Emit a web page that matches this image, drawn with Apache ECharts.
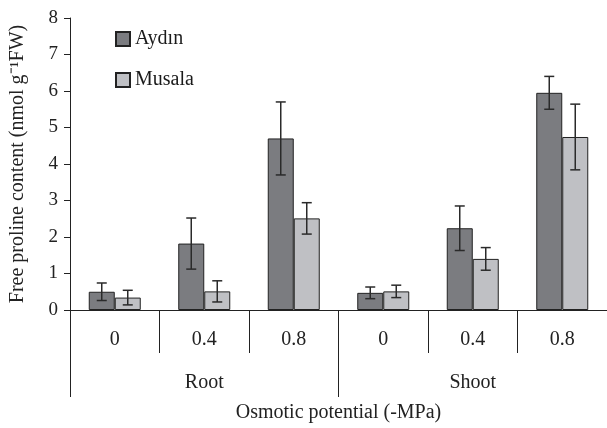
<!DOCTYPE html>
<html lang="en">
<head>
  <meta charset="UTF-8" />
  <title>Free proline content</title>
  <script src="https://cdn.jsdelivr.net/npm/echarts@6.0.0/dist/echarts.min.js"></script>
</head>
<body style="margin:0; background:#fff;">
  <div id="main" style="width: 607px; height: 428px;"></div>
  <script type="text/javascript">
    // categories
    let levels = ['0', '0.4', '0.8', '0', '0.4', '0.8'];
    let organs = ['Root', 'Shoot'];
    // means
    let aydin = [0.50, 1.82, 4.70, 0.47, 2.24, 5.95];
    let musala = [0.34, 0.51, 2.51, 0.51, 1.40, 4.74];
    // standard errors
    let aydinErr = [0.24, 0.70, 1.00, 0.16, 0.61, 0.45];
    let musalaErr = [0.20, 0.29, 0.43, 0.17, 0.31, 0.90];

    let font = 'Liberation Serif';
    let darkGrey = '#7b7c80';
    let lightGrey = '#bfc0c4';
    let barW = 26;

    function errData(vals, errs) {
      return vals.map(function (v, i) { return [i, v - errs[i], v + errs[i]]; });
    }

    function errSeries(vals, errs, shift) {
      return {
        type: 'custom',
        xAxisIndex: 0,
        data: errData(vals, errs),
        z: 5,
        silent: true,
        renderItem: function (params, api) {
          let lo = api.coord([api.value(0), api.value(1)]);
          let hi = api.coord([api.value(0), api.value(2)]);
          let x = lo[0] + shift;
          let cap = 5;
          let st = { stroke: '#2a2a2a', lineWidth: 1.5 };
          return {
            type: 'group',
            children: [
              { type: 'line', shape: { x1: x, y1: lo[1], x2: x, y2: hi[1] }, style: st },
              { type: 'line', shape: { x1: x - cap, y1: lo[1], x2: x + cap, y2: lo[1] }, style: st },
              { type: 'line', shape: { x1: x - cap, y1: hi[1], x2: x + cap, y2: hi[1] }, style: st }
            ]
          };
        }
      };
    }

    var myChart = echarts.init(document.getElementById('main'));
    myChart.setOption({
      animation: false,
      textStyle: { fontFamily: font },
      legend: {
        orient: 'vertical',
        left: 110,
        top: 24,
        itemWidth: 14,
        itemHeight: 14,
        itemGap: 21,
        icon: 'rect',
        data: ['Aydın', 'Musala'],
        textStyle: { fontFamily: font, fontSize: 20, color: '#1a1a1a' }
      },
      grid: { left: 69, top: 18, width: 542, bottom: 118 },
      xAxis: [
        {
          type: 'category',
          data: levels,
          axisLine: { lineStyle: { color: '#222', width: 1 } },
          axisTick: { show: true, interval: 0, length: 43, lineStyle: { color: '#222' } },
          axisLabel: { interval: 0, margin: 20, fontSize: 20, color: '#222', fontFamily: font }
        },
        {
          type: 'category',
          data: organs,
          position: 'bottom',
          axisLine: { show: false },
          axisTick: { show: true, interval: 0, length: 87, lineStyle: { color: '#222' } },
          axisLabel: { interval: 0, margin: 63, fontSize: 20, color: '#222', fontFamily: font },
          name: 'Osmotic potential (-MPa)',
          nameLocation: 'middle',
          nameGap: 93,
          nameTextStyle: { fontSize: 20, color: '#222', fontFamily: font }
        }
      ],
      yAxis: {
        type: 'value',
        min: 0,
        max: 8,
        interval: 1,
        name: 'Free proline content (nmol g\u207B\u00B9FW)',
        nameLocation: 'middle',
        nameGap: 42,
        nameTextStyle: { fontSize: 20, color: '#222', fontFamily: font },
        axisLine: { show: true, lineStyle: { color: '#222' } },
        axisTick: { show: true, length: 6, lineStyle: { color: '#222' } },
        splitLine: { show: false },
        axisLabel: { fontSize: 19, color: '#222', margin: 12, fontFamily: font }
      },
      series: [
        {
          name: 'Aydın',
          type: 'bar',
          data: aydin,
          barWidth: barW,
          barGap: '0%',
          itemStyle: { color: darkGrey, borderColor: '#222', borderWidth: 1 }
        },
        {
          name: 'Musala',
          type: 'bar',
          data: musala,
          barWidth: barW,
          barGap: '0%',
          itemStyle: { color: lightGrey, borderColor: '#222', borderWidth: 1 }
        },
        errSeries(aydin, aydinErr, -barW / 2),
        errSeries(musala, musalaErr, barW / 2)
      ]
    });
  </script>
</body>
</html>
